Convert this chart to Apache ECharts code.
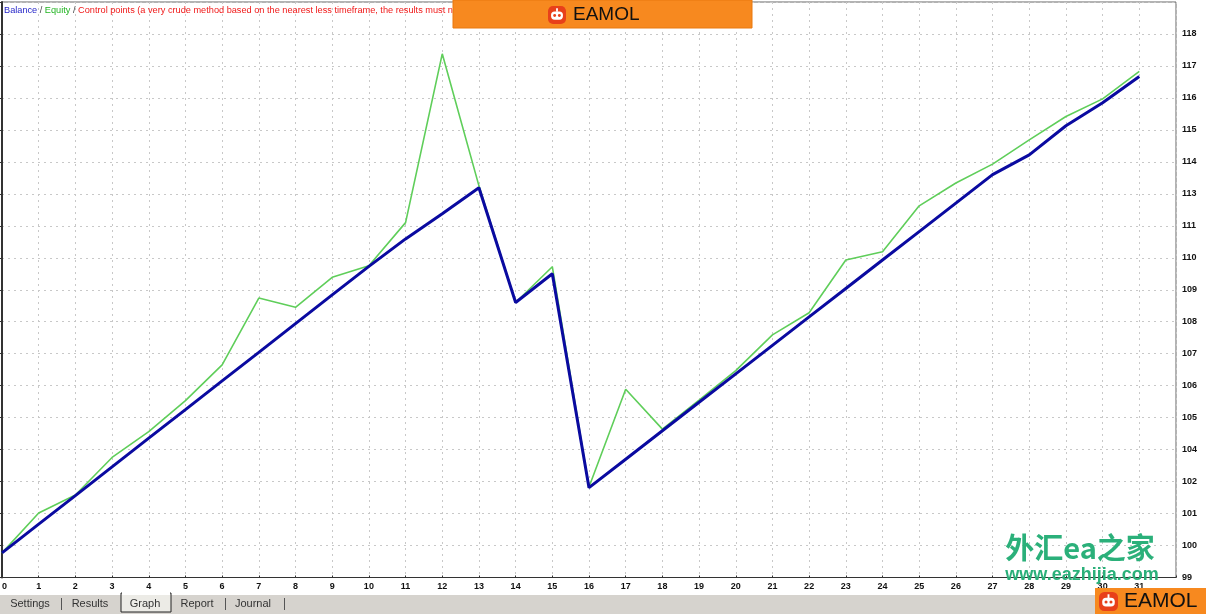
<!DOCTYPE html>
<html><head><meta charset="utf-8">
<script src="https://cdn.jsdelivr.net/npm/echarts@6/dist/echarts.min.js"></script>
<style>html,body{margin:0;padding:0;background:#fff;overflow:hidden}#c{width:1206px;height:614px}</style>
</head><body><div id="c"></div>
<script>
const xLabels = ['0','1','2','3','4','5','6','7','8','9','10','11','12','13','14','15','16','17','18','19','20','21','22','23','24','25','26','27','28','29','30','31'];
const yLabels = [99,100,101,102,104,105,106,107,108,109,110,111,113,114,115,116,117,118];
const balance = [99.77,100.67,101.56,102.92,104.36,105.25,106.15,107.04,107.94,108.84,109.73,110.59,111.75,113.19,108.60,109.50,101.81,103.40,104.59,105.48,106.37,107.26,108.15,109.04,109.93,110.82,112.42,113.60,114.22,115.13,115.85,116.67];
const equity = [99.77,101.02,101.58,103.51,104.56,105.53,106.65,108.74,108.45,109.39,109.75,111.20,117.38,113.25,108.60,109.72,101.83,105.89,104.64,105.55,106.47,107.59,108.28,109.93,110.19,112.25,113.34,113.93,114.69,115.42,115.97,116.83];
const legendParts = ['Balance',' / ','Equity',' / ','Control points (a very crude method based on the nearest less timeframe, the results must not be considered)'];
const tabs = ['Settings','Results','Graph','Report','Journal'];

// MT4 axis prints rounded labels at evenly spaced grid lines: place values between them
function toAxis(v){
  for (let k = 0; k < yLabels.length - 1; k++) {
    if (v <= yLabels[k + 1]) return k + (v - yLabels[k]) / (yLabels[k + 1] - yLabels[k]);
  }
  return yLabels.length - 1;
}
const balData = balance.map((v, i) => [i, toAxis(v)]);
const eqData = equity.map((v, i) => [i, toAxis(v)]);

function logo(x, y, s, textSize, textX) {
  return [
    {type:'rect', shape:{x:x, y:y, width:s, height:s, r:s*0.28}, style:{fill:'#e8401a'}, z:102},
    {type:'rect', shape:{x:x+s*0.17, y:y+s*0.3, width:s*0.66, height:s*0.46, r:s*0.2}, style:{fill:'#fff'}, z:103},
    {type:'rect', shape:{x:x+s*0.45, y:y+s*0.12, width:s*0.1, height:s*0.2}, style:{fill:'#fff'}, z:103},
    {type:'circle', shape:{cx:x+s*0.37, cy:y+s*0.53, r:s*0.08}, style:{fill:'#e8401a'}, z:104},
    {type:'circle', shape:{cx:x+s*0.63, cy:y+s*0.53, r:s*0.08}, style:{fill:'#e8401a'}, z:104},
    {type:'text', x:textX, y:y+s/2, style:{text:'EAMOL', fill:'#111', font:'500 '+textSize+'px "Liberation Sans", Arial', textVerticalAlign:'middle'}, z:104}
  ];
}

const tabPos = [{x:30},{x:90},{x:145},{x:197},{x:253}];
const tabGraphics = [
  {type:'rect', shape:{x:0, y:595, width:1206, height:19}, style:{fill:'#d6d3ce'}, z:90},
  {type:'rect', shape:{x:121, y:593, width:50, height:19}, style:{fill:'#ecebe6', stroke:'#222', lineWidth:1}, z:91},
  {type:'rect', shape:{x:122, y:592, width:48, height:3}, style:{fill:'#fff'}, z:92}
];
tabs.forEach((t, i) => {
  tabGraphics.push({type:'text', x:tabPos[i].x, y:604, style:{text:t, fill:'#333', font:'11px "Liberation Sans", Arial', textAlign:'center', textVerticalAlign:'middle'}, z:95});
});
[61, 225, 284].forEach(px => tabGraphics.push({type:'rect', shape:{x:px, y:598, width:1, height:12}, style:{fill:'#555'}, z:95}));

const chart = echarts.init(document.getElementById('c'), null, {renderer:'canvas'});
chart.setOption({
  animation:false,
  backgroundColor:'#fff',
  grid:{left:2, right:30, top:2, bottom:36.5, containLabel:false, outerBoundsMode:'none', show:true, borderColor:'#666', borderWidth:1},
  xAxis:{
    type:'value', min:0, max:32, interval:1,
    axisLine:{show:true, lineStyle:{color:'#333', width:1}},
    axisTick:{show:true, inside:true, length:2, lineStyle:{color:'#333'}},
    axisLabel:{margin:5, fontSize:9, fontWeight:'bold', color:'#111', fontFamily:'"Liberation Sans", Arial', alignMinLabel:'left',
      formatter: v => (v < xLabels.length ? xLabels[v] : '')},
    splitLine:{show:true, lineStyle:{color:'#c8c8c8', type:[2,4], width:1}}
  },
  yAxis:{
    type:'value', position:'right', min:0, max:18, interval:1,
    axisLine:{show:true, lineStyle:{color:'#333', width:2}},
    axisTick:{show:true, inside:true, length:3, lineStyle:{color:'#333'}},
    axisLabel:{margin:6, fontSize:9, fontWeight:'bold', color:'#111', fontFamily:'"Liberation Sans", Arial',
      formatter: v => (v < yLabels.length ? String(yLabels[v]) : '')},
    splitLine:{show:true, lineStyle:{color:'#c8c8c8', type:[2,4], width:1}}
  },
  series:[
    {name:'Equity', type:'line', data:eqData, symbol:'none', lineStyle:{color:'#5fce5a', width:1.6}, z:2},
    {name:'Balance', type:'line', data:balData, symbol:'none', lineStyle:{color:'#0a0aa0', width:3}, z:3}
  ],
  graphic:[
    {type:'text', x:4, y:10, style:{
      text:'{b|'+legendParts[0]+'}{s|'+legendParts[1]+'}{e|'+legendParts[2]+'}{s|'+legendParts[3]+'}{c|'+legendParts[4]+'}',
      font:'9.2px "Liberation Sans", Arial', textVerticalAlign:'middle',
      rich:{b:{fill:'#2626c8', fontSize:9.2}, s:{fill:'#444', fontSize:9.2}, e:{fill:'#22b422', fontSize:9.2}, c:{fill:'#f01818', fontSize:9.2}}
    }, z:50},
    {type:'rect', shape:{x:453, y:0, width:299, height:28}, style:{fill:'#f7891f', stroke:'#e9780f', lineWidth:1}, z:100},
    ...logo(548, 6, 18, 19, 573),
    {type:'text', x:1080, y:548, style:{text:'外汇ea之家', fill:'#2bb07a', font:'bold 29px "Noto Sans CJK SC", sans-serif', textAlign:'center', textVerticalAlign:'middle'}, z:60},
    {type:'text', x:1082, y:575, style:{text:'www.eazhijia.com', fill:'#2bb07a', font:'bold 18px "Liberation Sans", Arial', textAlign:'center', textVerticalAlign:'middle'}, z:60},
    ...tabGraphics,
    {type:'rect', shape:{x:1095, y:588, width:111, height:26}, style:{fill:'#f7891f'}, z:100},
    ...logo(1099, 592, 19, 21, 1124)
  ]
});
</script></body></html>
